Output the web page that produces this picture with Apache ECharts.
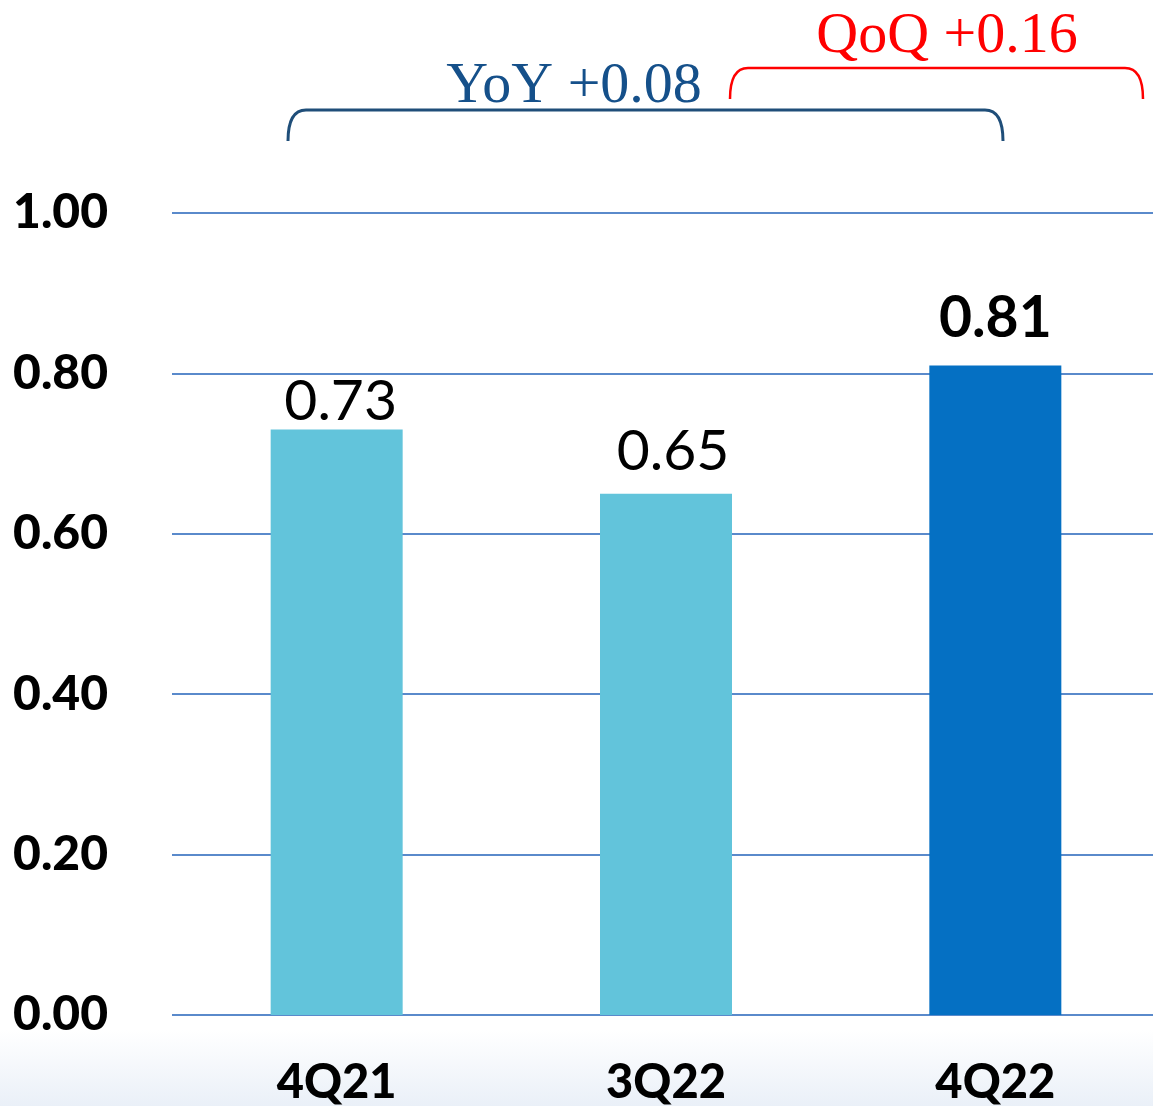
<!DOCTYPE html>
<html>
<head>
<meta charset="utf-8">
<script src="https://cdn.jsdelivr.net/npm/echarts@6/dist/echarts.min.js"></script>
<style>
  html, body { margin: 0; padding: 0; background: #fff; }
  #chart { width: 1153px; height: 1106px; }
</style>
</head>
<body>
<div id="chart"></div>
<script>
var categories = ['4Q21', '3Q22', '4Q22'];
var values = [0.73, 0.65, 0.81];
var yTicks = [0, 0.2, 0.4, 0.6, 0.8, 1.0];
var yoyText = 'YoY +0.08';
var qoqText = 'QoQ +0.16';

var barColors = ['#62C4DB', '#62C4DB', '#0570C3'];
var labelStyles = [
    { fontWeight: 'normal', distance: -1, offset: [4, 0] },
    { fontWeight: 'normal', distance: 14, offset: [7, 0] },
    { fontWeight: 'bold', distance: 18, offset: [0, 0] }
];

var chartDom = document.getElementById('chart');
var myChart = echarts.init(chartDom);
var option;

var seriesData = values.map(function (v, i) {
    return {
        value: v,
        itemStyle: { color: barColors[i] },
        label: {
            fontWeight: labelStyles[i].fontWeight,
            distance: labelStyles[i].distance,
            offset: labelStyles[i].offset
        }
    };
});

// curly bracket: two rounded corners plus a straight top
function bracket(x1, x2, top, bottom, r, color, w) {
    var st = { stroke: color, lineWidth: w, fill: null };
    return [
        { type: 'bezierCurve', shape: { x1: x1, y1: bottom, cpx1: x1, cpy1: top, x2: x1 + r, y2: top }, style: st },
        { type: 'line', shape: { x1: x1 + r, y1: top, x2: x2 - r, y2: top }, style: st },
        { type: 'bezierCurve', shape: { x1: x2 - r, y1: top, cpx1: x2, cpy1: top, x2: x2, y2: bottom }, style: st }
    ];
}

var graphics = [
    {
        type: 'rect',
        z: -10,
        shape: { x: 0, y: 1030, width: 1153, height: 76 },
        style: {
            fill: {
                type: 'linear', x: 0, y: 0, x2: 0, y2: 1,
                colorStops: [
                    { offset: 0, color: '#ffffff' },
                    { offset: 1, color: '#EAF0F8' }
                ]
            }
        }
    },
    {
        type: 'text',
        x: 574,
        y: 87,
        style: {
            text: yoyText,
            fill: '#15508A',
            font: '58px "Liberation Serif"',
            textAlign: 'center',
            textVerticalAlign: 'middle'
        }
    },
    {
        type: 'text',
        x: 947,
        y: 37,
        style: {
            text: qoqText,
            fill: '#FF0000',
            font: '58px "Liberation Serif"',
            textAlign: 'center',
            textVerticalAlign: 'middle'
        }
    }
].concat(bracket(288, 1003, 110, 141, 18, '#1F4E79', 3))
 .concat(bracket(730, 1143, 68, 99, 18, '#FF0000', 2.5));

option = {
    backgroundColor: '#ffffff',
    animation: false,
    grid: {
        left: 172,
        width: 988,
        top: 213,
        bottom: 91,
        outerBoundsMode: 'none',
        containLabel: false
    },
    graphic: graphics,
    xAxis: {
        type: 'category',
        data: categories,
        axisLine: { show: false },
        axisTick: { show: false },
        axisLabel: {
            color: '#000',
            fontFamily: 'Lato',
            fontWeight: 900,
            fontSize: 47,
            margin: 44
        }
    },
    yAxis: {
        type: 'value',
        min: yTicks[0],
        max: yTicks[yTicks.length - 1],
        interval: 0.2,
        axisLine: { show: false },
        axisTick: { show: false },
        splitLine: { lineStyle: { color: '#5A8ACB', width: 2 } },
        axisLabel: {
            color: '#000',
            fontFamily: 'Lato',
            fontWeight: 900,
            fontSize: 48,
            margin: 64,
            formatter: function (v) { return v.toFixed(2); }
        }
    },
    series: [
        {
            type: 'bar',
            barWidth: 132,
            data: seriesData,
            label: {
                show: true,
                position: 'top',
                color: '#000',
                fontFamily: 'Lato',
                fontSize: 57,
                formatter: function (p) { return p.value.toFixed(2); }
            }
        }
    ]
};
option && myChart.setOption(option);
</script>
</body>
</html>
